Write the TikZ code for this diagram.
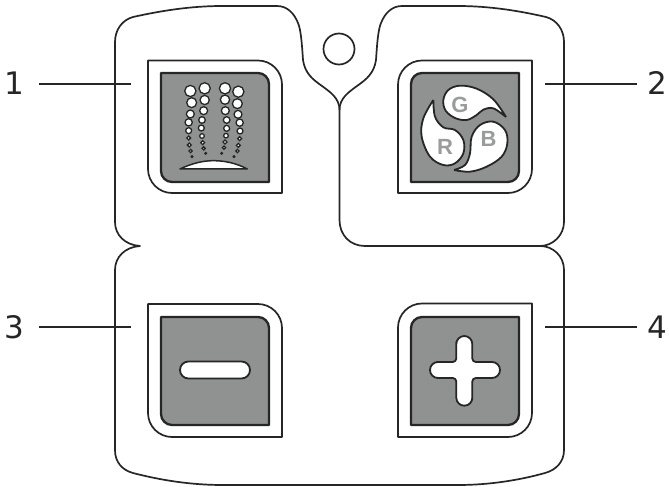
\documentclass[tikz,border=0pt]{standalone}
\usepackage{fontspec}
\setmainfont{DejaVu Sans}
\newfontfamily\rgbfont{Liberation Sans}
\definecolor{ink}{HTML}{262626}
\definecolor{panel}{HTML}{8F9291}
\definecolor{letter}{HTML}{9A9C9C}
% A: top-right and bottom-left rounded; B: top-left and bottom-right rounded
\newcommand\btnA[5]{(#1,#2) -- ({#3-#5},#2) .. controls ({#3-.45*#5},#2) and (#3,{#2+.45*#5}) .. (#3,{#2+#5}) -- (#3,#4) -- ({#1+#5},#4) .. controls ({#1+.45*#5},#4) and (#1,{#4-.45*#5}) .. (#1,{#4-#5}) -- cycle}
\newcommand\btnB[5]{(#3,#2) -- (#3,{#4-#5}) .. controls (#3,{#4-.45*#5}) and ({#3-.45*#5},#4) .. ({#3-#5},#4) -- (#1,#4) -- (#1,{#2+#5}) .. controls (#1,{#2+.45*#5}) and ({#1+.45*#5},#2) .. ({#1+#5},#2) -- cycle}
\tikzset{
  shell/.style={draw=ink,line width=1.7pt,line join=round},
  bezel/.style={draw=ink,line width=1.7pt,fill=white,line join=round},
  face/.style={draw=ink,line width=2.3pt,fill=panel,line join=round},
  glyph/.style={draw=ink,line width=1.8pt,fill=white,line join=round},
  leader/.style={draw=ink,line width=2pt},
  num/.style={font=\fontsize{31}{31}\selectfont,text=ink,inner sep=0pt},
  rgb/.style={font=\rgbfont\bfseries\fontsize{22}{22}\selectfont,text=letter,inner sep=0pt},
  drop/.style={draw=ink,line width=1.3pt,fill=white}
}
\begin{document}
\begin{tikzpicture}[x=1pt,y=-1pt]
\useasboundingbox[fill=white] (0,0) rectangle (669,487);
% housing
\draw[shell] (339.5,220) -- (339.5,110)
  .. controls (339.5,98) and (330,92) .. (322,86)
  .. controls (312,79) and (305,73) .. (303,60)
  .. controls (302,45) and (301,30) .. (298,23)
  .. controls (294,13) and (287,6) .. (277,6) -- (222,6)
  .. controls (190,6) and (160,11) .. (133,17)
  .. controls (122,20) and (115,30) .. (115,42) -- (115,222)
  .. controls (115,235) and (125,245) .. (140,246)
  .. controls (125,247) and (115,257) .. (115,270) -- (115,450)
  .. controls (115,462) and (122,470) .. (133,473)
  .. controls (160,480) and (190,485) .. (223,485) -- (458,485)
  .. controls (490,485) and (520,480) .. (545,473)
  .. controls (556,470) and (564,462) .. (564,450) -- (564,270)
  .. controls (564,256) and (553,246) .. (540,246) -- (365,246)
  .. controls (350,246) and (339.5,235) .. (339.5,220);
\draw[shell] (339.5,110)
  .. controls (339.5,98) and (349,92) .. (357,86)
  .. controls (367,79) and (374,73) .. (376,60)
  .. controls (377,45) and (378,30) .. (381,23)
  .. controls (385,13) and (392,6) .. (402,6) -- (458,6)
  .. controls (490,6) and (520,11) .. (546,17)
  .. controls (557,20) and (564,30) .. (564,42) -- (564,222)
  .. controls (564,235) and (553,246) .. (540,246);
\draw[shell] (339,49) circle[radius=15.5pt];
% buttons
\path[bezel] \btnA{148}{60.5}{282}{193}{24};
\path[face]  \btnA{161}{73}{269}{182}{11};
\path[bezel] \btnB{398}{60.5}{532}{193}{24};
\path[face]  \btnB{411}{73}{519}{182}{11};
\path[bezel] \btnA{148}{304}{282}{437}{24};
\path[face]  \btnA{161}{317}{269}{425}{11};
\path[bezel] \btnB{398}{303.5}{532}{437}{24};
\path[face]  \btnB{411}{317}{519}{425}{11};
% shower glyph
\begin{scope}[shift={(130,40)},x=1pt/3,y=-1pt/3]
\foreach \a/\b/\r in {181/153/17,185/188/15,181/222/12,176/247/11,176/272/9,176/294/6,178/315/6,182/333/5,
  224/145/17,224/180/14,221/212/12,216/240/10,214/264/9,216/288/7,218/308/6,221/325/5,
  285/145/17,285/179/14,286/212/12,290/240/10,290/265/9,288/287/7,285/306/6,282/323/5,
  325/155/17,322/191/15,324/223/12,329/248/11,330/273/9,329/296/6,325/316/6,322/333/5}
  \path[drop] (\a,\b) circle[radius=\r*0.33pt];
\foreach \a/\b in {186/350,227/340,275/340,312/350}
  \fill[ink] (\a,\b) circle[radius=1.7pt];
\path[draw=ink,line width=1.5pt,fill=white,line join=round] (150,387) .. controls (185,370) and (220,362) .. (250,362) .. controls (285,362) and (320,370) .. (352,387) -- cycle;
\end{scope}
% RGB glyph
\begin{scope}[shift={(380,40)},x=1pt/3,y=-1pt/3]
\path[glyph] plot[smooth,tension=.6] coordinates {(378,231) (340,178) (290,146) (240,137) (205,150) (190,180) (197,212) (225,234) (260,240) (290,225) (310,209) (340,205) (378,231)};
\path[glyph] plot[smooth,tension=.6] coordinates {(222,390) (255,375) (270,340) (275,290) (300,255) (340,245) (375,270) (382,310) (365,350) (320,380) (270,395) (222,390)};
\path[glyph] plot[smooth,tension=.6] coordinates {(160,180) (165,230) (190,262) (225,270) (250,300) (250,340) (225,370) (190,375) (150,350) (125,290) (130,235) (160,180)};
\node[rgb] (g) at (240,195) {G};
\node[rgb] (b) at (326,297) {B};
\node[rgb] (r) at (195,322) {R};
\end{scope}
% minus, plus
\path[glyph,rounded corners=8.5pt] (180,361.5) rectangle (250,378.5);
\path[glyph] (472.3,350) [rounded corners=8pt] -- (472.3,336) -- (456.3,336) -- (456.3,350) [rounded corners=3.5pt] -- (456.3,362) -- (440,362) [rounded corners=8pt] -- (430,362) -- (430,378) -- (445,378) [rounded corners=3.5pt] -- (456.3,378) -- (456.3,392) [rounded corners=8pt] -- (456.3,405.7) -- (472.3,405.7) -- (472.3,392) [rounded corners=3.5pt] -- (472.3,378) -- (485,378) [rounded corners=8pt] -- (500,378) -- (500,362) -- (485,362) [rounded corners=3.5pt] -- (472.3,362) -- cycle;
% labels and leaders
\node[num] (n1) at (14,83) {1};
\node[num] (n2) at (657,83) {2};
\node[num] (n3) at (14,327) {3};
\node[num] (n4) at (657,327) {4};
\coordinate (a1) at (39,84);  \coordinate (e1) at (131,84);
\coordinate (a2) at (637,84); \coordinate (e2) at (545,84);
\coordinate (a3) at (39,327); \coordinate (e3) at (131,327);
\coordinate (a4) at (637,327);\coordinate (e4) at (545,327);
\draw[leader] (a1) -- (e1);
\draw[leader] (a2) -- (e2);
\draw[leader] (a3) -- (e3);
\draw[leader] (a4) -- (e4);
\end{tikzpicture}
\end{document}
